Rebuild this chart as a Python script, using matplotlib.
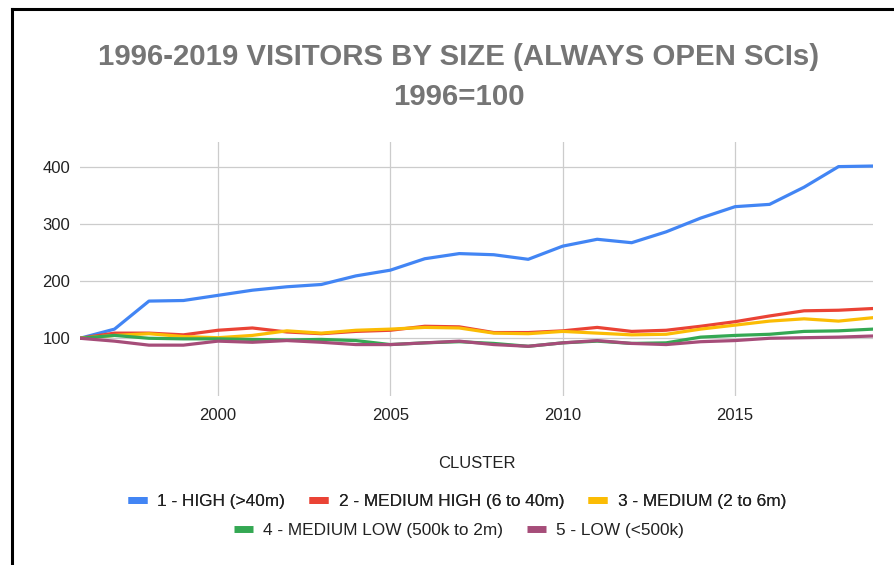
import matplotlib
matplotlib.use("Agg")
import matplotlib.pyplot as plt
from matplotlib import font_manager
from matplotlib.lines import Line2D

years = list(range(1996, 2020))
high = [100, 116, 165, 166, 175, 184, 190, 194, 209, 219, 239, 248, 246, 238, 261, 273, 267, 286, 310, 330, 334, 364, 400, 401]
medium_high = [100, 109, 109, 106, 114, 118, 111, 108, 112, 114, 121, 120, 110, 110, 113, 119, 112, 114, 121, 129, 139, 148, 149, 152]
medium = [100, 105, 108, 103, 101, 105, 113, 109, 114, 116, 119, 118, 109, 108, 112, 109, 106, 107, 116, 123, 130, 134, 130, 136]
medium_low = [100, 105, 100, 99, 99, 98, 97, 98, 96, 89, 92, 94, 91, 86, 92, 95, 91, 92, 102, 105, 107, 112, 113, 116]
low = [100, 95, 88, 88, 95, 93, 96, 93, 89, 89, 92, 95, 89, 86, 92, 96, 91, 89, 94, 96, 100, 101, 102, 104]

series_names = ["1 - HIGH (>40m)", "2 - MEDIUM HIGH (6 to 40m)", "3 - MEDIUM (2 to 6m)",
                "4 - MEDIUM LOW (500k to 2m)", "5 - LOW (<500k)"]
series_values = [high, medium_high, medium, medium_low, low]
colors = ["#4285F4", "#EA4335", "#FBBC04", "#34A853", "#A64D79"]
x_ticks = [2000, 2005, 2010, 2015]
y_ticks = [100, 200, 300, 400]

def pick(fams):
    for f in fams:
        try:
            font_manager.findfont(font_manager.FontProperties(family=f), fallback_to_default=False)
            return f
        except Exception:
            pass
    return "DejaVu Sans"

base_font = pick(["Liberation Sans", "Arial", "DejaVu Sans"])
plt.rcParams['font.family'] = [base_font, 'DejaVu Sans']

W, H = 894, 565
fig = plt.figure(figsize=(W / 100, H / 100), dpi=100)
fig.patch.set_facecolor("white")

ax = fig.add_axes([80 / W, 1 - 395.5 / H, (873 - 80) / W, (395.5 - 142) / H])
for name, vals, c in zip(series_names, series_values, colors):
    ax.plot(years, vals, color=c, lw=2.3, label=name, solid_joinstyle="round", zorder=3)

ax.set_xlim(1996, 2019)
ax.set_ylim(0, 443)
ax.set_xticks(x_ticks)
ax.set_yticks(y_ticks)
ax.grid(True, color="#cccccc", lw=0.9, zorder=0)
ax.set_axisbelow(True)
for s in ax.spines.values():
    s.set_visible(False)
ax.tick_params(length=0, labelsize=12, colors="#222222")
ax.tick_params(axis="y", pad=7)
ax.tick_params(axis="x", pad=9)

fig.text(459 / W, 1 - 57 / H, "1996-2019 VISITORS BY SIZE (ALWAYS OPEN SCIs)", ha="center", va="center",
         fontsize=21.2, fontweight="bold", color="#757575")
fig.text(459 / W, 1 - 97 / H, "1996=100", ha="center", va="center",
         fontsize=21.2, fontweight="bold", color="#757575")

fig.text(477 / W, 1 - 463 / H, "CLUSTER", ha="center", va="center", fontsize=12, color="#222222")

handles = [Line2D([0], [0], color=c, lw=5, solid_capstyle="butt") for c in colors]
leg_font = {"size": 12.4}
leg1 = fig.legend(handles[:3], series_names[:3], loc="center", bbox_to_anchor=(457 / W, 1 - 501 / H),
                  ncol=3, frameon=False, prop=leg_font, handlelength=1.1, handletextpad=0.6,
                  columnspacing=1.4, borderpad=0, labelcolor="#222222")
fig.add_artist(leg1)
fig.legend(handles[3:], series_names[3:], loc="center", bbox_to_anchor=(459 / W, 1 - 530 / H),
           ncol=2, frameon=False, prop=leg_font, handlelength=1.1, handletextpad=0.6,
           columnspacing=1.4, borderpad=0, labelcolor="#222222")

# screenshot border (top and left)
fig.add_artist(Line2D([11.7 / W, 11.7 / W], [0, 1 - 9 / H], color="black", lw=2.2, transform=fig.transFigure))
fig.add_artist(Line2D([11.7 / W, 1], [1 - 9 / H, 1 - 9 / H], color="black", lw=2.2, transform=fig.transFigure))

fig.savefig("out.png", dpi=100, facecolor="white")
